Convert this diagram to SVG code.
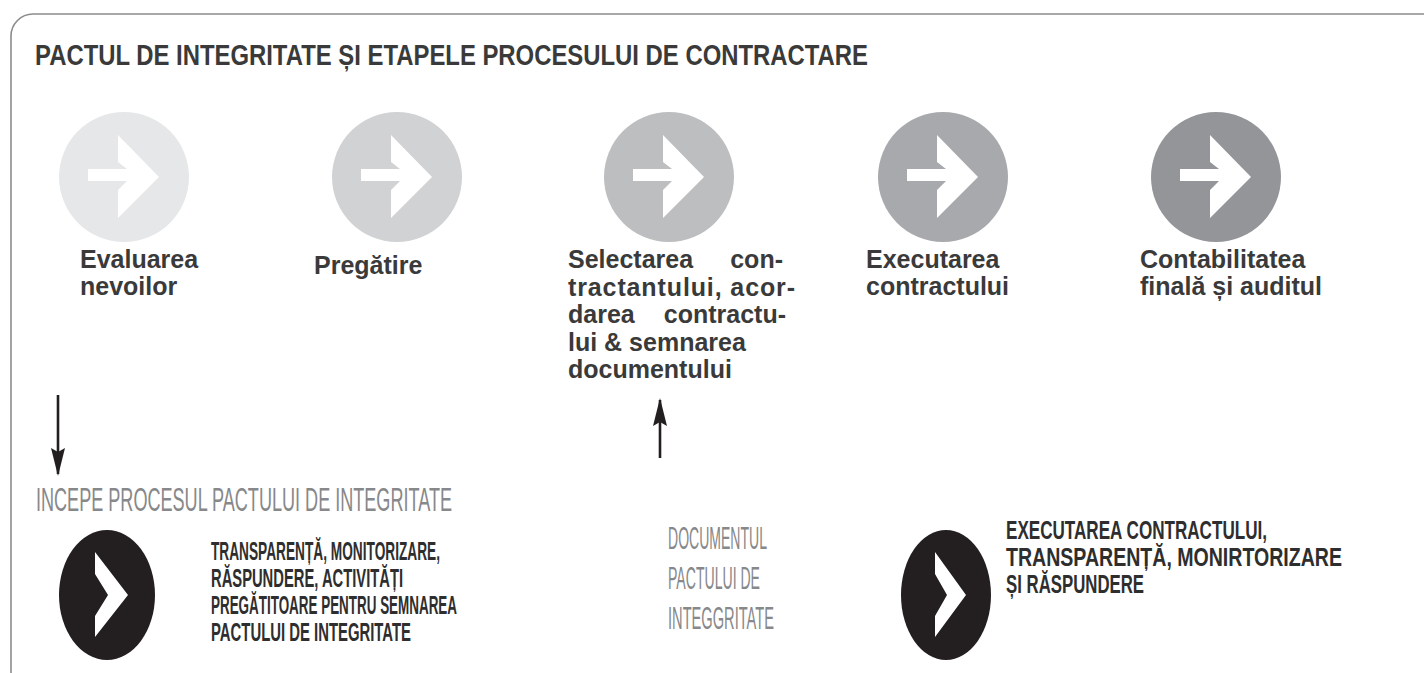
<svg xmlns="http://www.w3.org/2000/svg" width="1424" height="673" viewBox="0 0 1424 673">
<defs>
<style>
.lbl{font-family:"Liberation Sans",Arial,sans-serif;font-weight:bold;font-size:25px;fill:#3a3a3a}
.ttl{font-family:"Liberation Sans Narrow","Liberation Sans",Arial,sans-serif;font-weight:bold;font-size:29px;fill:#3a3a3a}
.cnd{font-family:"Liberation Sans Narrow","Liberation Sans",Arial,sans-serif;font-weight:bold;font-size:25px;fill:#2e2e2e}
.gry{font-family:"Liberation Sans Narrow","Liberation Sans",Arial,sans-serif;font-size:33px;fill:#87888a}
.arr{fill:#ffffff}
.blk{fill:#231f20}
.con{stroke:#231f20;stroke-width:2.6;fill:none}
</style>
<path id="arw" d="M-36,-8 L3,-8 L-6,-15 L-6,-42 L35,0 L-6,41 L-6,13 L3,4 L-36,4 Z"/>
<marker id="ah" markerUnits="userSpaceOnUse" markerWidth="28" markerHeight="14" refX="26" refY="7" orient="auto" viewBox="0 0 28 14">
<path d="M0,0 L28,7 L0,14 L4,7 Z" fill="#231f20"/>
</marker>
</defs>
<rect x="11" y="14" width="1450" height="680" rx="22" ry="22" fill="#ffffff" stroke="#8c8c8c" stroke-width="1.6"/>
<text class="ttl" x="35" y="65" textLength="833" lengthAdjust="spacingAndGlyphs">PACTUL DE INTEGRITATE ȘI ETAPELE PROCESULUI DE CONTRACTARE</text>

<g id="step1">
<circle cx="124" cy="177" r="65" fill="#e6e7e8"/>
<use href="#arw" x="124" y="177" class="arr"/>
<text class="lbl"><tspan x="80" y="268">Evaluarea</tspan><tspan x="80" y="295">nevoilor</tspan></text>
</g>
<g id="step2">
<circle cx="397" cy="177" r="65" fill="#d1d2d4"/>
<use href="#arw" x="397" y="177" class="arr"/>
<text class="lbl" x="314" y="274">Pregătire</text>
</g>
<g id="step3">
<circle cx="669" cy="177" r="65" fill="#bcbec0"/>
<use href="#arw" x="669" y="177" class="arr"/>
<text class="lbl" x="568" y="268">Selectarea</text>
<text class="lbl" x="783" y="268" text-anchor="end">con-</text>
<text class="lbl" x="568" y="296" textLength="227" lengthAdjust="spacing">tractantului, acor-</text>
<text class="lbl" x="568" y="323">darea</text>
<text class="lbl" x="786" y="323" text-anchor="end">contractu-</text>
<text class="lbl" x="568" y="351">lui &amp; semnarea</text>
<text class="lbl" x="568" y="378">documentului</text>
</g>
<g id="step4">
<circle cx="943" cy="177" r="65" fill="#a7a9ac"/>
<use href="#arw" x="943" y="177" class="arr"/>
<text class="lbl"><tspan x="866" y="268">Executarea</tspan><tspan x="866" y="295">contractului</tspan></text>
</g>
<g id="step5">
<circle cx="1216" cy="177" r="65" fill="#939598"/>
<use href="#arw" x="1216" y="177" class="arr"/>
<text class="lbl"><tspan x="1140" y="268">Contabilitatea</tspan><tspan x="1140" y="295">finală și auditul</tspan></text>
</g>

<g id="connectors">
<line class="con" x1="58" y1="395" x2="58" y2="474" marker-end="url(#ah)"/>
<line class="con" x1="660" y1="458" x2="660" y2="400" marker-end="url(#ah)"/>
</g>

<g id="start">
<text class="gry" x="36" y="511" textLength="416" lengthAdjust="spacingAndGlyphs">INCEPE PROCESUL PACTULUI DE INTEGRITATE</text>
</g>
<g id="phase1">
<ellipse class="blk" cx="107" cy="595" rx="48" ry="65"/>
<path class="arr" d="M95,552 L128,595 L95,637 L95,616 L108,595 L95,574 Z"/>
<text class="cnd" x="211" y="560" textLength="229" lengthAdjust="spacingAndGlyphs">TRANSPARENȚĂ, MONITORIZARE,</text>
<text class="cnd" x="211" y="587" textLength="192" lengthAdjust="spacingAndGlyphs">RĂSPUNDERE, ACTIVITĂȚI</text>
<text class="cnd" x="211" y="614" textLength="246" lengthAdjust="spacingAndGlyphs">PREGĂTITOARE PENTRU SEMNAREA</text>
<text class="cnd" x="211" y="641" textLength="200" lengthAdjust="spacingAndGlyphs">PACTULUI DE INTEGRITATE</text>
</g>
<g id="document">
<text class="gry" style="font-size:31px" x="668" y="549" textLength="99" lengthAdjust="spacingAndGlyphs">DOCUMENTUL</text>
<text class="gry" style="font-size:31px" x="668" y="589" textLength="92" lengthAdjust="spacingAndGlyphs">PACTULUI DE</text>
<text class="gry" style="font-size:31px" x="668" y="629" textLength="106" lengthAdjust="spacingAndGlyphs">INTEGGRITATE</text>
</g>
<g id="phase2">
<ellipse class="blk" cx="946" cy="595" rx="45" ry="65"/>
<path class="arr" d="M935,552 L966,595 L935,637 L935,616 L947,595 L935,574 Z"/>
<text class="cnd" x="1006" y="539" textLength="261" lengthAdjust="spacingAndGlyphs">EXECUTAREA CONTRACTULUI,</text>
<text class="cnd" x="1006" y="566" textLength="336" lengthAdjust="spacingAndGlyphs">TRANSPARENȚĂ, MONIRTORIZARE</text>
<text class="cnd" x="1006" y="593" textLength="138" lengthAdjust="spacingAndGlyphs">ȘI RĂSPUNDERE</text>
</g>
</svg>
